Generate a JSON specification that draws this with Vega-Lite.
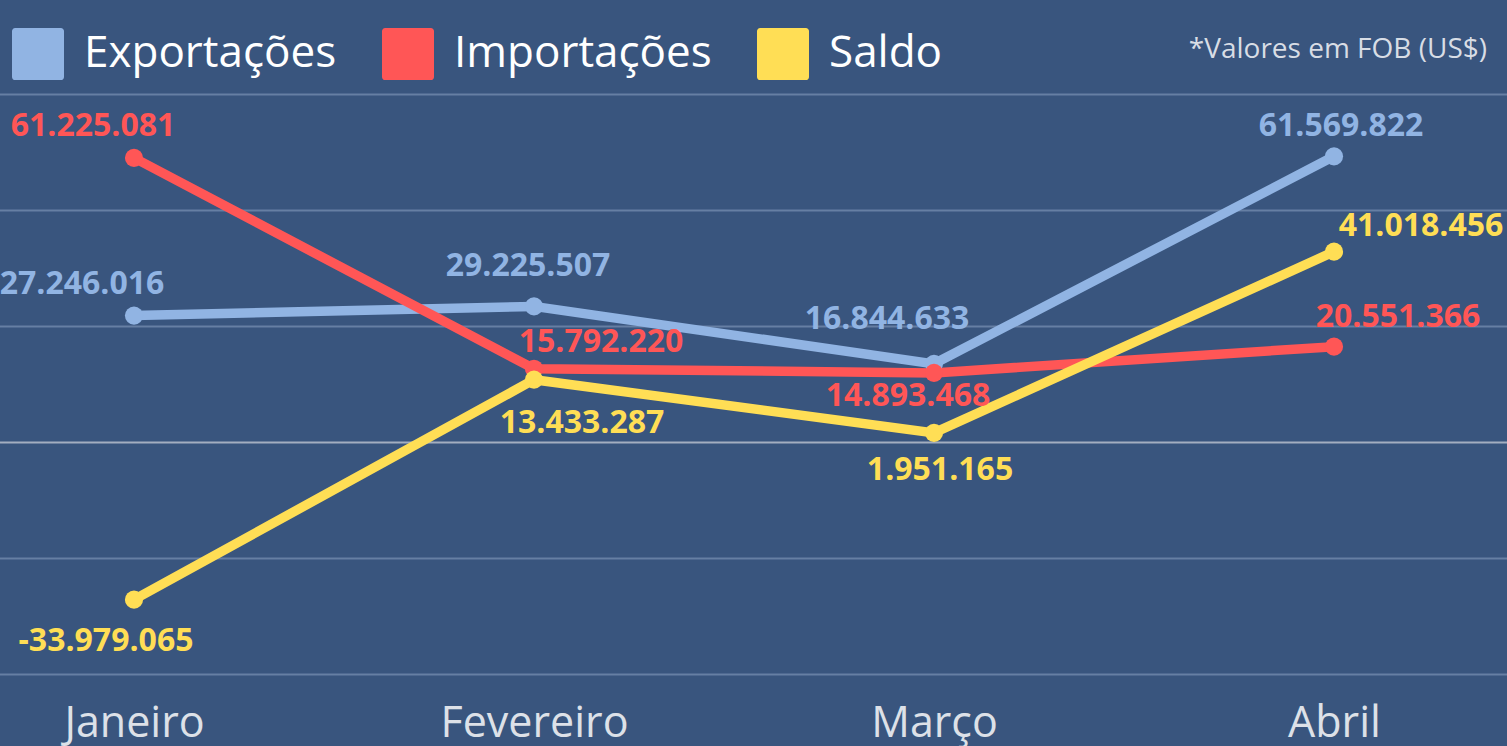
{
  "$schema": "https://vega.github.io/schema/vega-lite/v6.json",
  "width": 1507,
  "height": 580,
  "autosize": {"type": "none"},
  "padding": {"left": 0, "top": 94, "right": 0, "bottom": 72},
  "background": "#39557e",
  "config": {
    "locale": {"number": {"decimal": ",", "thousands": ".", "grouping": [3], "currency": ["US$", ""], "minus": "-"}},
    "view": {"stroke": null},
    "font": "Open Sans"
  },
  "title": {
    "text": "*Valores em FOB (US$)",
    "anchor": "end",
    "frame": "group",
    "fontSize": 28,
    "fontWeight": "normal",
    "font": "Open Sans",
    "color": "#d8dde5",
    "baseline": "alphabetic",
    "offset": -58,
    "dx": -20
  },
  "data": {
    "values": [
      {"mes": "Janeiro", "serie": "Exportações", "valor": 27246016},
      {"mes": "Fevereiro", "serie": "Exportações", "valor": 29225507},
      {"mes": "Março", "serie": "Exportações", "valor": 16844633},
      {"mes": "Abril", "serie": "Exportações", "valor": 61569822},
      {"mes": "Janeiro", "serie": "Importações", "valor": 61225081},
      {"mes": "Fevereiro", "serie": "Importações", "valor": 15792220},
      {"mes": "Março", "serie": "Importações", "valor": 14893468},
      {"mes": "Abril", "serie": "Importações", "valor": 20551366},
      {"mes": "Janeiro", "serie": "Saldo", "valor": -33979065},
      {"mes": "Fevereiro", "serie": "Saldo", "valor": 13433287},
      {"mes": "Março", "serie": "Saldo", "valor": 1951165},
      {"mes": "Abril", "serie": "Saldo", "valor": 41018456}
    ]
  },
  "encoding": {
    "x": {
      "field": "mes", "type": "ordinal",
      "sort": ["Janeiro", "Fevereiro", "Março", "Abril"],
      "scale": {"type": "point", "range": [-66, 1534], "padding": 0.5},
      "axis": {"title": null, "domain": false, "ticks": false, "grid": false, "labelAngle": 0,
               "labelFontSize": 43, "labelFont": "Open Sans", "labelColor": "#dde1e8", "labelLimit": 0,
               "labelBaseline": "alphabetic", "labelPadding": 62}
    },
    "y": {
      "field": "valor", "type": "quantitative",
      "scale": {"domain": [-50000000, 75000000], "nice": false, "zero": false},
      "axis": {"title": null, "labels": false, "ticks": false, "domain": false, "grid": true,
               "values": [-50000000, -25000000, 0, 25000000, 50000000, 75000000],
               "gridColor": {"condition": {"test": "datum.value === 0", "value": "#a3aec0"}, "value": "#667fa3"},
               "gridWidth": 2}
    },
    "color": {
      "field": "serie", "type": "nominal",
      "scale": {"domain": ["Exportações", "Importações", "Saldo"], "range": ["#91b4e3", "#ff5656", "#ffde55"]},
      "legend": {
        "title": null, "orient": "none", "legendX": 12, "legendY": -66, "direction": "horizontal",
        "symbolType": "M-0.88,-1H0.88A0.12,0.12,0,0,1,1,-0.88V0.88A0.12,0.12,0,0,1,0.88,1H-0.88A0.12,0.12,0,0,1,-1,0.88V-0.88A0.12,0.12,0,0,1,-0.88,-1Z",
        "symbolSize": 2704, "symbolStrokeWidth": 0, "symbolOpacity": 1,
        "labelFontSize": 44, "labelFont": "Open Sans", "labelColor": "#ffffff", "labelOffset": 20,
        "columnPadding": 45, "labelLimit": 0,
        "encode": {"symbols": {"update": {"fill": {"scale": "color", "field": "value"}, "stroke": {"value": "transparent"}}}}
      }
    }
  },
  "layer": [
    {"mark": {"type": "line", "strokeWidth": 9.5}},
    {"mark": {"type": "point", "filled": true, "size": 330, "opacity": 1}},
    {"transform": [{"filter": "datum.serie === 'Exportações' && datum.mes === 'Janeiro'"}],
     "mark": {"type": "text", "fontSize": 32, "fontWeight": "bold", "font": "Open Sans", "baseline": "alphabetic", "align": "center", "dx": -52, "dy": -22},
     "encoding": {"text": {"field": "valor", "type": "quantitative", "format": ",d"}}},
    {"transform": [{"filter": "datum.serie === 'Exportações' && datum.mes === 'Fevereiro'"}],
     "mark": {"type": "text", "fontSize": 32, "fontWeight": "bold", "font": "Open Sans", "baseline": "alphabetic", "align": "center", "dx": -6, "dy": -30},
     "encoding": {"text": {"field": "valor", "type": "quantitative", "format": ",d"}}},
    {"transform": [{"filter": "datum.serie === 'Exportações' && datum.mes === 'Março'"}],
     "mark": {"type": "text", "fontSize": 32, "fontWeight": "bold", "font": "Open Sans", "baseline": "alphabetic", "align": "center", "dx": -47, "dy": -35},
     "encoding": {"text": {"field": "valor", "type": "quantitative", "format": ",d"}}},
    {"transform": [{"filter": "datum.serie === 'Exportações' && datum.mes === 'Abril'"}],
     "mark": {"type": "text", "fontSize": 32, "fontWeight": "bold", "font": "Open Sans", "baseline": "alphabetic", "align": "center", "dx": 7, "dy": -20},
     "encoding": {"text": {"field": "valor", "type": "quantitative", "format": ",d"}}},
    {"transform": [{"filter": "datum.serie === 'Importações' && datum.mes === 'Janeiro'"}],
     "mark": {"type": "text", "fontSize": 32, "fontWeight": "bold", "font": "Open Sans", "baseline": "alphabetic", "align": "center", "dx": -41, "dy": -22},
     "encoding": {"text": {"field": "valor", "type": "quantitative", "format": ",d"}}},
    {"transform": [{"filter": "datum.serie === 'Importações' && datum.mes === 'Fevereiro'"}],
     "mark": {"type": "text", "fontSize": 32, "fontWeight": "bold", "font": "Open Sans", "baseline": "alphabetic", "align": "center", "dx": 67, "dy": -17},
     "encoding": {"text": {"field": "valor", "type": "quantitative", "format": ",d"}}},
    {"transform": [{"filter": "datum.serie === 'Importações' && datum.mes === 'Março'"}],
     "mark": {"type": "text", "fontSize": 32, "fontWeight": "bold", "font": "Open Sans", "baseline": "alphabetic", "align": "center", "dx": -26, "dy": 33},
     "encoding": {"text": {"field": "valor", "type": "quantitative", "format": ",d"}}},
    {"transform": [{"filter": "datum.serie === 'Importações' && datum.mes === 'Abril'"}],
     "mark": {"type": "text", "fontSize": 32, "fontWeight": "bold", "font": "Open Sans", "baseline": "alphabetic", "align": "center", "dx": 64, "dy": -20},
     "encoding": {"text": {"field": "valor", "type": "quantitative", "format": ",d"}}},
    {"transform": [{"filter": "datum.serie === 'Saldo' && datum.mes === 'Janeiro'"}],
     "mark": {"type": "text", "fontSize": 32, "fontWeight": "bold", "font": "Open Sans", "baseline": "alphabetic", "align": "center", "dx": -28, "dy": 51},
     "encoding": {"text": {"field": "valor", "type": "quantitative", "format": ",d"}}},
    {"transform": [{"filter": "datum.serie === 'Saldo' && datum.mes === 'Fevereiro'"}],
     "mark": {"type": "text", "fontSize": 32, "fontWeight": "bold", "font": "Open Sans", "baseline": "alphabetic", "align": "center", "dx": 48, "dy": 53},
     "encoding": {"text": {"field": "valor", "type": "quantitative", "format": ",d"}}},
    {"transform": [{"filter": "datum.serie === 'Saldo' && datum.mes === 'Março'"}],
     "mark": {"type": "text", "fontSize": 32, "fontWeight": "bold", "font": "Open Sans", "baseline": "alphabetic", "align": "center", "dx": 6, "dy": 47},
     "encoding": {"text": {"field": "valor", "type": "quantitative", "format": ",d"}}},
    {"transform": [{"filter": "datum.serie === 'Saldo' && datum.mes === 'Abril'"}],
     "mark": {"type": "text", "fontSize": 32, "fontWeight": "bold", "font": "Open Sans", "baseline": "alphabetic", "align": "center", "dx": 87, "dy": -16},
     "encoding": {"text": {"field": "valor", "type": "quantitative", "format": ",d"}}}
  ]
}
